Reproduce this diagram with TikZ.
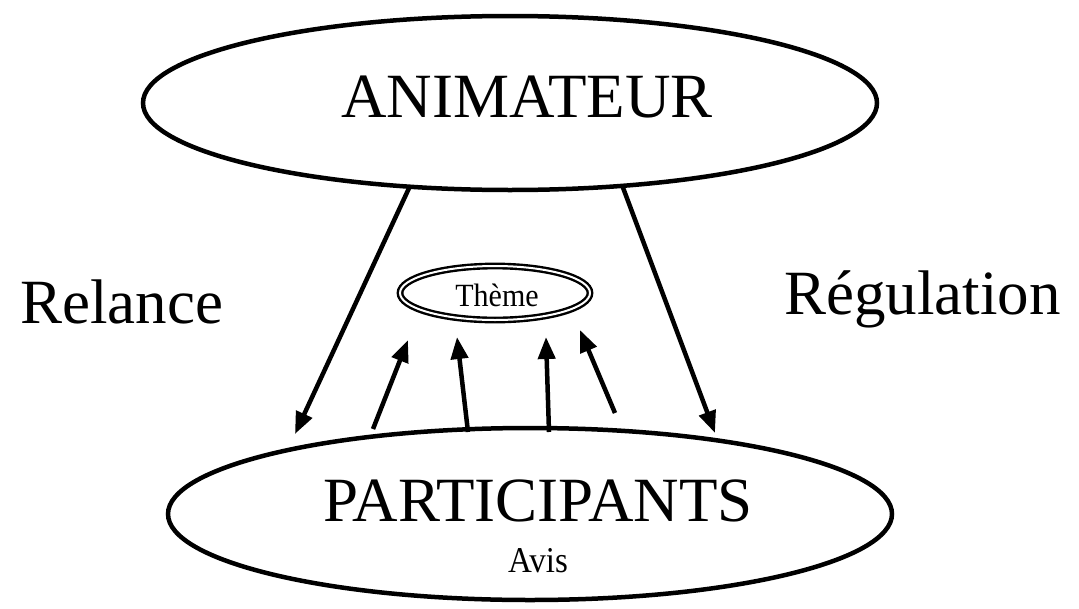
\documentclass[tikz,border=0pt]{standalone}
\usepackage{fontspec}
\setmainfont{Liberation Serif}
\usetikzlibrary{shapes.geometric,arrows.meta}
\tikzset{
  bigell/.style={draw, ellipse, line width=4.5pt, inner sep=0pt},
  arr/.style={line width=4.5pt, -{Triangle[length=22pt,width=17pt]}},
  bigtxt/.style={font=\fontsize{63}{63}\selectfont, inner sep=0pt, anchor=base},
}
\begin{document}
\begin{tikzpicture}[x=1pt,y=-1pt]
\useasboundingbox (0,0) rectangle (1079,608);
% ellipses
\node[bigell, minimum width=734pt, minimum height=174pt] (anim) at (510,103) {};
\node[bigell, minimum width=724pt, minimum height=172pt] (part) at (530,514) {};
\node[draw, ellipse, double, line width=2.4pt, double distance=2pt, minimum width=190pt, minimum height=54pt, inner sep=0pt] (theme) at (495,293) {};
% texts
\node[bigtxt] (animtxt) at (527,117) {ANIMATEUR};
\node[bigtxt] (parttxt) at (538,521) {PARTICIPANTS};
\node[font=\fontsize{33}{33}\selectfont, inner sep=0pt, anchor=base, yscale=1.1] (avis) at (538,572) {Avis};
\node[font=\fontsize{30}{30}\selectfont, inner sep=0pt, anchor=base, yscale=1.08] (themetxt) at (497,306) {Thème};
\node[bigtxt, anchor=base west] (relance) at (20,323) {Relance};
\node[bigtxt, anchor=base west] (regul) at (784,314) {Régulation};
% free arrow ends
\coordinate (a1s) at (410,186);
\coordinate (a1e) at (295,434);
\coordinate (a2s) at (622,185);
\coordinate (a2e) at (715,433);
\coordinate (s1s) at (373,429);
\coordinate (s1e) at (408,340);
\coordinate (s2s) at (468,432);
\coordinate (s2e) at (457,337);
\coordinate (s3s) at (549,432);
\coordinate (s3e) at (546,337);
\coordinate (s4s) at (615,413);
\coordinate (s4e) at (580,330);
% arrows
\draw[arr] (a1s) -- (a1e);
\draw[arr] (a2s) -- (a2e);
\draw[arr] (s1s) -- (s1e);
\draw[arr] (s2s) -- (s2e);
\draw[arr] (s3s) -- (s3e);
\draw[arr] (s4s) -- (s4e);
\end{tikzpicture}
\end{document}
